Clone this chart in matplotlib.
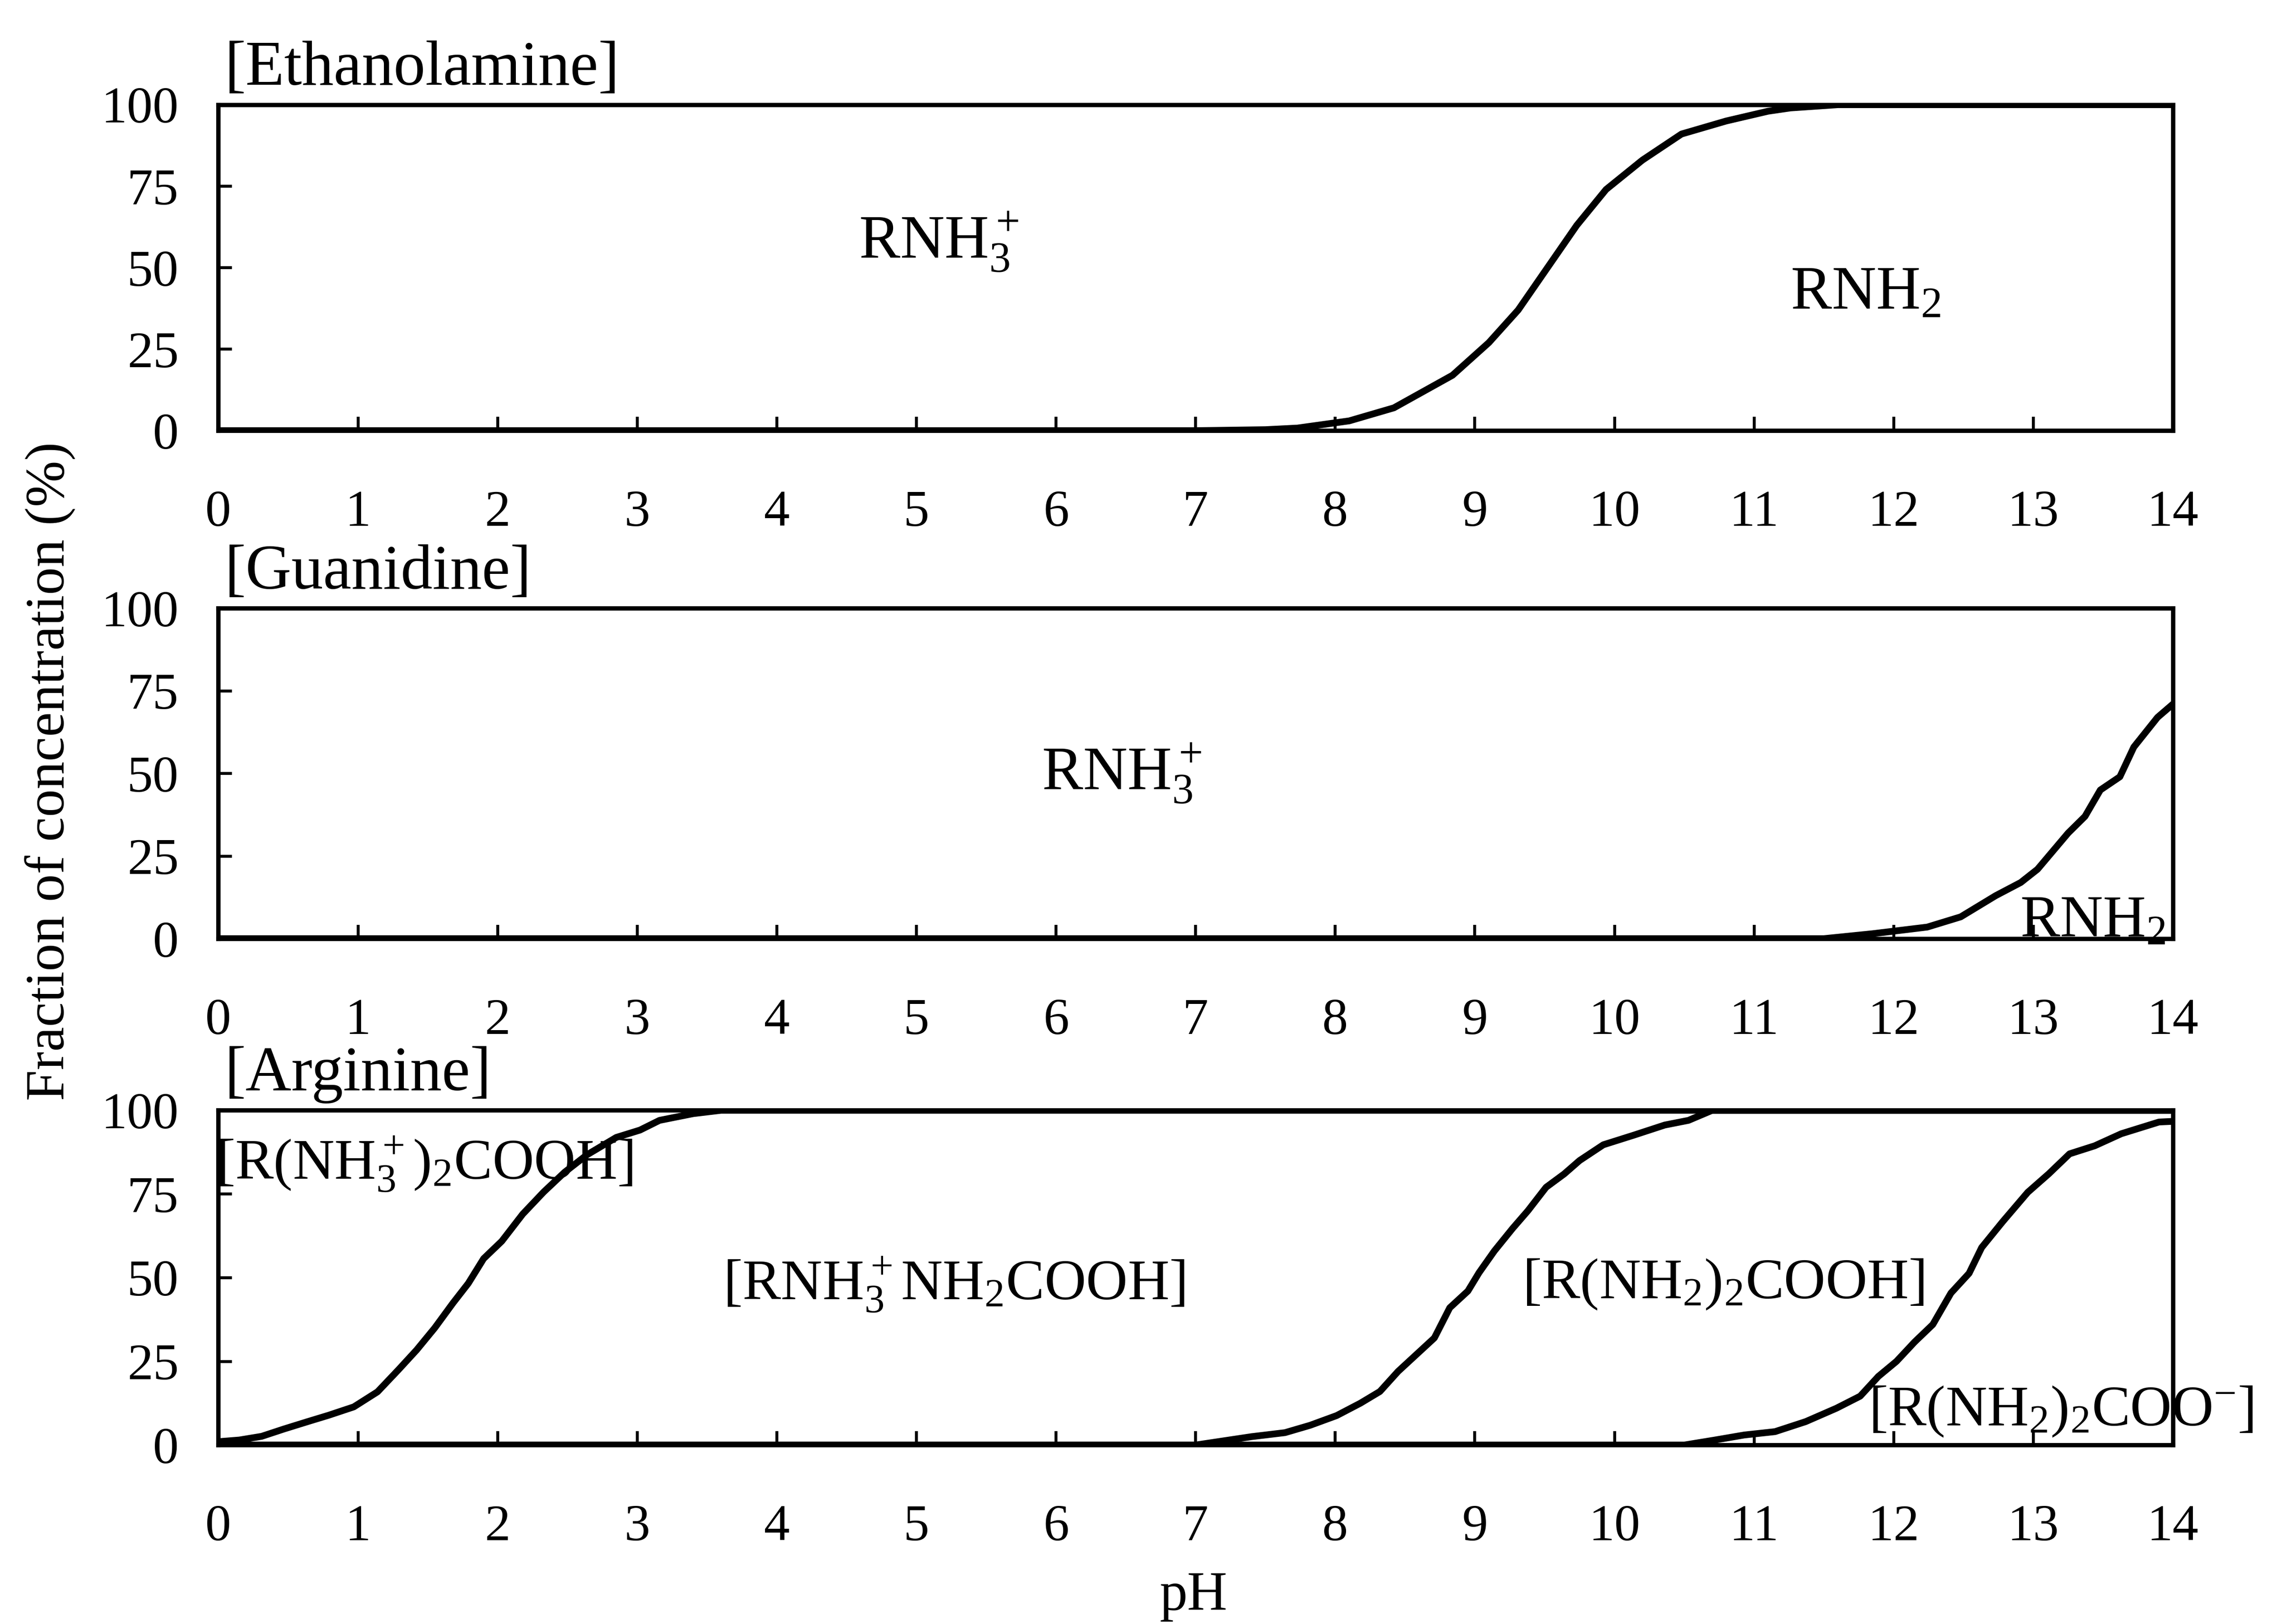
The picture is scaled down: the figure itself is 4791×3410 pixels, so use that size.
import matplotlib
matplotlib.use("Agg")
import matplotlib.pyplot as plt

plt.rcParams['font.family'] = ['Liberation Serif', 'DejaVu Serif']
plt.rcParams['mathtext.fontset'] = 'custom'
plt.rcParams['mathtext.rm'] = 'Liberation Serif'
plt.rcParams['mathtext.it'] = 'Liberation Serif'

# Ethanolamine: fraction of RNH2 (%)
eth_ph = [0, 7.0, 7.5, 7.73, 8.1, 8.42, 8.84, 9.1, 9.31, 9.52, 9.73, 9.94,
          10.2, 10.48, 10.8, 11.1, 11.26, 11.6, 14.0]
eth_val = [0, 0, 0.3, 0.8, 3, 7, 17, 27, 37, 50, 63, 74,
           83, 91, 95, 98, 99, 100, 100]

# Guanidine: fraction of RNH2 (%)
gua_ph = [0, 11.5, 11.85, 12.24, 12.48, 12.73, 12.91, 13.03, 13.25, 13.37,
          13.48, 13.62, 13.72, 13.89, 14.0]
gua_val = [0, 0, 1.5, 3.5, 6.6, 13, 17, 21, 32, 37,
           45, 49, 58, 67, 71]

# Arginine: cumulative fractions (%)
arg1_ph = [0, 0.15, 0.31, 0.47, 0.64, 0.79, 0.97, 1.14, 1.29, 1.42, 1.55, 1.68,
           1.79, 1.9, 2.03, 2.18, 2.33, 2.48, 2.64, 2.85, 3.02, 3.16, 3.4, 3.6, 14.0]
arg1_val = [1, 1.5, 2.6, 4.8, 7, 8.9, 11.4, 15.9, 22.5, 28.4, 35, 42.4,
            48.3, 55.7, 60.9, 69, 75.6, 81.5, 86.7, 91.9, 94.1, 97, 99, 100, 100]
arg2_ph = [0, 7.0, 7.4, 7.64, 7.82, 8.01, 8.18, 8.32, 8.45, 8.58, 8.71, 8.82,
           8.95, 9.03, 9.14, 9.27, 9.38, 9.51, 9.64, 9.75, 9.92, 10.14, 10.36,
           10.53, 10.7, 14.0]
arg2_val = [0, 0, 2.5, 3.7, 5.9, 8.8, 12.5, 16, 22, 27, 32, 41,
            46, 51.5, 58, 64.7, 70, 77, 81, 85, 89.7, 92.6, 95.6,
            97, 100, 100]
arg3_ph = [0, 10.5, 10.72, 10.93, 11.15, 11.37, 11.59, 11.76, 11.89, 12.02, 12.15,
           12.28, 12.41, 12.54, 12.63, 12.78, 12.96, 13.11, 13.26, 13.44, 13.63,
           13.9, 14.0]
arg3_val = [0, 0, 1.5, 3, 4, 7, 11, 14.6, 20.5, 25, 30.8,
            36, 45.4, 51.3, 59, 66.7, 75.5, 81, 87, 89.4, 93,
            96.5, 96.7]

xticks = list(range(0, 15))
yticks = [0, 25, 50, 75, 100]

fig = plt.figure(figsize=(15.97, 11.367), dpi=300)

left, width = 0.0957, 0.8565
panels = [
    ([left, 0.7348, width, 0.2007], '[Ethanolamine]'),
    ([left, 0.4220, width, 0.2034], '[Guanidine]'),
    ([left, 0.1102, width, 0.2061], '[Arginine]'),
]

axes = []
for rect, title in panels:
    ax = fig.add_axes(rect)
    ax.set_xlim(0, 14)
    ax.set_ylim(0, 100)
    ax.set_xticks(xticks)
    ax.set_yticks(yticks)
    ax.tick_params(direction='in', length=7, width=1.5, labelsize=26,
                   top=False, right=False)
    ax.tick_params(axis='x', pad=30)
    ax.tick_params(axis='y', pad=20)
    for s in ax.spines.values():
        s.set_linewidth(2.2)
        s.set_color('black')
    ax.text(0.003, 1.02, title, transform=ax.transAxes, fontsize=32,
            ha='left', va='bottom')
    axes.append(ax)

lw = 3.4
ax1, ax2, ax3 = axes

ax1.plot(eth_ph, eth_val, color='black', lw=lw)
ax1.text(5.16, 58, r'RNH$_3^+$', fontsize=31, ha='center', va='center')
ax1.text(11.8, 42, r'RNH$_2$', fontsize=31, ha='center', va='center')

ax2.plot(gua_ph, gua_val, color='black', lw=lw)
ax2.text(6.47, 50, r'RNH$_3^+$', fontsize=31, ha='center', va='center')
ax2.text(13.95, 5, r'RNH$_2$', fontsize=30, ha='right', va='center')

for xs, ys in [(arg1_ph, arg1_val), (arg2_ph, arg2_val), (arg3_ph, arg3_val)]:
    ax3.plot(xs, ys, color='black', lw=lw)
ax3.text(-0.02, 84, r'[R(NH$_3^+$)$_2$COOH]', fontsize=29, ha='left', va='center')
ax3.text(5.27, 48, r'[RNH$_3^+$NH$_2$COOH]', fontsize=29, ha='center', va='center')
ax3.text(10.78, 48, r'[R(NH$_2$)$_2$COOH]', fontsize=29, ha='center', va='center')
ax3.text(13.2, 10, r'[R(NH$_2$)$_2$COO$^{-}$]', fontsize=29, ha='center',
         va='center', clip_on=False)

fig.text(0.022, 0.525, 'Fraction of concentration (%)', rotation=90,
         fontsize=28, ha='center', va='center')
fig.text(0.523, 0.017, 'pH', fontsize=28, ha='center', va='center')

fig.savefig('out.png', dpi=300)
